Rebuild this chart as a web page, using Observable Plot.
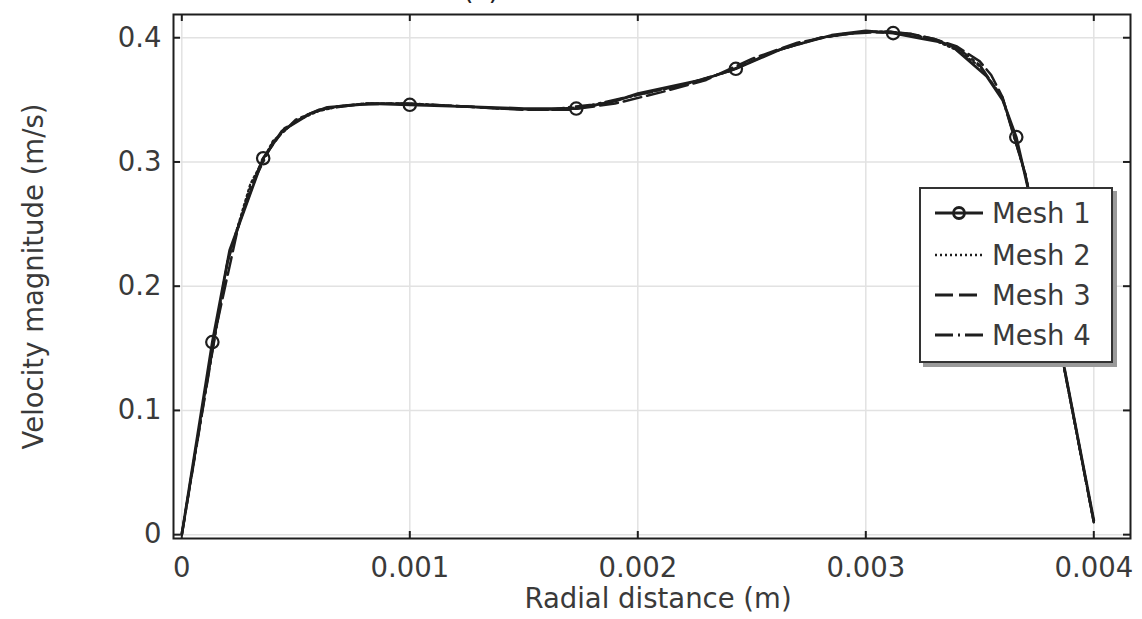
<!DOCTYPE html>
<html>
<head>
<meta charset="utf-8">
<script src="https://cdn.jsdelivr.net/npm/d3@7"></script>
<script src="https://cdn.jsdelivr.net/npm/@observablehq/plot@0.6"></script>
<style>
  html, body { margin: 0; padding: 0; background: #fff; overflow: hidden; }
  #wrap { position: relative; width: 1142px; height: 619px; font-family: "DejaVu Sans", sans-serif; }
  #title { position: absolute; top: -24px; left: 441px; width: 80px; text-align: center; font-size: 27px; line-height: 27px; color: #222; }
  #legend { position: absolute; left: 919px; top: 187px; width: 190px; height: 172px; border: 2px solid #333; background: #fff; box-shadow: 4px 4px 0 #9a9a9a; }
</style>
</head>
<body>
<div id="wrap">
  <div id="chart"></div>
  <div id="title">(c)</div>
  <div id="legend"></div>
</div>
<script>
// ---- data ----
const xTicks = [0, 0.001, 0.002, 0.003, 0.004];
const yTicks = [0, 0.1, 0.2, 0.3, 0.4];
const xTickLabels = ["0", "0.001", "0.002", "0.003", "0.004"];
const yTickLabels = ["0", "0.1", "0.2", "0.3", "0.4"];

const seriesNames = ["Mesh 1", "Mesh 2", "Mesh 3", "Mesh 4"];

const mesh1X = [0, 0.000134, 0.00021, 0.000357, 0.00044, 0.000564, 0.000638, 0.00083, 0.001, 0.00125, 0.0015, 0.00173, 0.0019, 0.002, 0.00228, 0.00243, 0.00263, 0.00285, 0.003, 0.00312, 0.00324, 0.00333, 0.00338, 0.00353, 0.0036, 0.00366, 0.00371, 0.003867, 0.004];
const mesh1Y = [0, 0.155, 0.229, 0.303, 0.325, 0.339, 0.344, 0.347, 0.346, 0.3445, 0.343, 0.343, 0.349, 0.355, 0.366, 0.375, 0.391, 0.402, 0.4055, 0.4037, 0.3994, 0.3965, 0.393, 0.369, 0.35, 0.32, 0.28, 0.138, 0.0115];
// markers of Mesh 1
const markerX = [0.000134, 0.000357, 0.001, 0.00173, 0.00243, 0.00312, 0.00366];
const markerY = [0.155, 0.303, 0.346, 0.343, 0.375, 0.4037, 0.32];

const mesh2X = [0, 0.0001, 0.0002, 0.0003, 0.0004, 0.0005, 0.0006, 0.0007, 0.0008, 0.001, 0.0012, 0.0014, 0.0016, 0.0018, 0.002, 0.0022, 0.0024, 0.0026, 0.0028, 0.003, 0.0031, 0.0032, 0.0033, 0.0034, 0.0035, 0.0036, 0.0037, 0.0038, 0.0039, 0.004];
const mesh2Y = [0, 0.112, 0.22, 0.282, 0.317, 0.333, 0.341, 0.345, 0.347, 0.347, 0.345, 0.343, 0.342, 0.345, 0.354, 0.362, 0.373, 0.389, 0.4, 0.405, 0.405, 0.403, 0.398, 0.39, 0.377, 0.352, 0.29, 0.2, 0.105, 0.01];

const mesh3X = [0, 0.00005, 0.00015, 0.00025, 0.00035, 0.00045, 0.00055, 0.00065, 0.00075, 0.0009, 0.0011, 0.0013, 0.0015, 0.0017, 0.0019, 0.0021, 0.0023, 0.0025, 0.0027, 0.0029, 0.0031, 0.0032, 0.0033, 0.0034, 0.0035, 0.00355, 0.0036, 0.0037, 0.0038, 0.0039, 0.004];
const mesh3Y = [0, 0.056, 0.166, 0.25, 0.301, 0.327, 0.338, 0.344, 0.346, 0.347, 0.346, 0.344, 0.342, 0.342, 0.347, 0.356, 0.366, 0.383, 0.396, 0.403, 0.405, 0.403, 0.399, 0.393, 0.381, 0.37, 0.352, 0.29, 0.2, 0.106, 0.01];

const mesh4X = [0, 0.0001, 0.0002, 0.0003, 0.0004, 0.0005, 0.0006, 0.0008, 0.001, 0.0012, 0.0014, 0.0016, 0.0018, 0.002, 0.0022, 0.0024, 0.0026, 0.0028, 0.003, 0.0032, 0.0033, 0.0034, 0.0035, 0.0036, 0.0037, 0.0038, 0.0039, 0.004];
const mesh4Y = [0, 0.11, 0.219, 0.279, 0.316, 0.334, 0.342, 0.347, 0.347, 0.345, 0.343, 0.342, 0.346, 0.354, 0.362, 0.373, 0.389, 0.4, 0.405, 0.403, 0.399, 0.392, 0.378, 0.351, 0.29, 0.199, 0.106, 0.01];

// ---- styles ----
const ink = "#1e1e1e";
const textInk = "#3a3a3a";
const dashes = [null, "2,3", "18,6", "18,5,2,5"];
const widths = [2.8, 2.2, 2.5, 2.5];

const rows = (xs, ys) => xs.map((x, i) => ({x, y: ys[i]}));
const series = [rows(mesh1X, mesh1Y), rows(mesh2X, mesh2Y), rows(mesh3X, mesh3Y), rows(mesh4X, mesh4Y)];
const markers = rows(markerX, markerY);

const W = 1142, H = 619, mL = 173, mR = 12, mT = 14, mB = 81;
const frameH = H - mT - mB, frameW = W - mL - mR;
const tickLen = 7;
const fontSize = 27.5;

const chart = Plot.plot({
  width: W, height: H,
  marginLeft: mL, marginRight: mR, marginTop: mT, marginBottom: mB,
  style: {fontFamily: "DejaVu Sans, sans-serif", fontSize: fontSize + "px", background: "#fff", color: textInk, overflow: "visible"},
  x: {domain: [-0.0000364, 0.004161]},
  y: {domain: [-0.0031, 0.4187]},
  marks: [
    Plot.gridX(xTicks, {stroke: "#e2e2e2", strokeOpacity: 1, strokeWidth: 1.5}),
    Plot.gridY(yTicks, {stroke: "#e2e2e2", strokeOpacity: 1, strokeWidth: 1.5}),
    ...series.map((s, i) => Plot.line(s, {x: "x", y: "y", stroke: ink, strokeWidth: widths[i], strokeDasharray: dashes[i], strokeLinejoin: "round"})),
    Plot.dot(markers, {x: "x", y: "y", r: 6.2, stroke: ink, fill: "none", strokeWidth: 2.2}),
    // inward ticks on all four sides
    Plot.tickX(xTicks, {x: d => d, stroke: ink, strokeWidth: 2, insetTop: frameH - tickLen}),
    Plot.tickX(xTicks, {x: d => d, stroke: ink, strokeWidth: 2, insetBottom: frameH - tickLen}),
    Plot.tickY(yTicks, {y: d => d, stroke: ink, strokeWidth: 2, insetRight: frameW - tickLen}),
    Plot.tickY(yTicks, {y: d => d, stroke: ink, strokeWidth: 2, insetLeft: frameW - tickLen}),
    Plot.frame({stroke: ink, strokeWidth: 2}),
    Plot.axisX(xTicks, {tickSize: 0, tickPadding: 19, tickFormat: (d, i) => xTickLabels[i], label: null, fill: textInk}),
    Plot.axisY(yTicks, {tickSize: 0, tickPadding: 12, tickFormat: (d, i) => yTickLabels[i], label: null, fill: textInk}),
    Plot.text(["Radial distance (m)"], {frameAnchor: "bottom", dx: 6, dy: 61, lineAnchor: "middle", textAnchor: "middle", fill: textInk, fontSize: fontSize}),
    Plot.text(["Velocity magnitude (m/s)"], {frameAnchor: "left", rotate: -90, dx: -139, lineAnchor: "middle", textAnchor: "middle", fill: textInk, fontSize: fontSize})
  ]
});
document.getElementById("chart").appendChild(chart);

// ---- legend ----
const legendRowsY = [26, 68, 108, 148];
const lg = d3.select("#legend").append("svg").attr("width", 190).attr("height", 172).style("display", "block");
seriesNames.forEach((name, i) => {
  const g = lg.append("g").attr("transform", `translate(0,${legendRowsY[i] - 2})`);
  g.append("line").attr("x1", 14).attr("x2", 62).attr("y1", 0).attr("y2", 0)
    .attr("stroke", ink).attr("stroke-width", widths[i] + 0.4).attr("stroke-dasharray", dashes[i]);
  if (i === 0) g.append("circle").attr("cx", 38).attr("cy", 0).attr("r", 5.5).attr("fill", "none").attr("stroke", ink).attr("stroke-width", 2.8);
  g.append("text").attr("x", 71).attr("y", 0).attr("dy", "0.36em").attr("font-size", fontSize)
    .attr("font-family", "DejaVu Sans, sans-serif").attr("fill", textInk).text(name);
});
</script>
</body>
</html>
